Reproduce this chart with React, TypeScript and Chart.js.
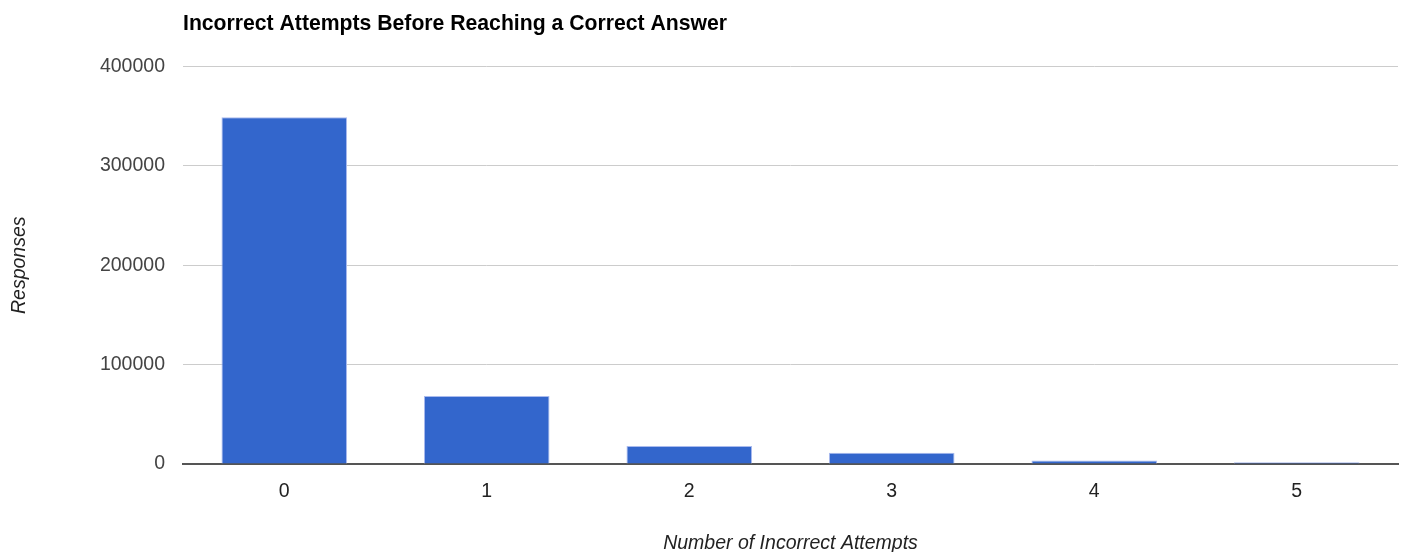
import { useEffect, useRef } from "react";
import { Chart, registerables } from "chart.js";

Chart.register(...registerables);

const categories = ["0", "1", "2", "3", "4", "5"];
const responses = [349000, 68300, 18100, 11400, 3400, 1700];
const yTicks = [0, 100000, 200000, 300000, 400000];

const FONT = "'Liberation Sans', Arial, sans-serif";

export default function App() {
  const ref = useRef<HTMLCanvasElement | null>(null);
  useEffect(() => {
    if (!ref.current) return;
    const chart = new Chart(ref.current, {
      type: "bar",
      data: {
        labels: categories,
        datasets: [
          {
            label: "Responses",
            data: responses,
            backgroundColor: "#3366cc",
            borderColor: "#aabbee",
            borderWidth: { top: 1, left: 1, right: 1, bottom: 0 },
            categoryPercentage: 1,
            barPercentage: 0.62,
          },
        ],
      },
      options: {
        animation: false,
        responsive: false,
        maintainAspectRatio: false,
        layout: { padding: { left: 0, right: 5, top: 0, bottom: 0 } },
        plugins: {
          legend: { display: false },
          tooltip: { enabled: false },
          title: {
            display: true,
            text: "Incorrect Attempts Before Reaching a Correct Answer",
            align: "start",
            fullSize: false,
            color: "#000",
            font: { family: FONT, size: 21.2, weight: "bold" },
            padding: { top: 11, bottom: 30 },
          },
        },
        scales: {
          x: {
            grid: { display: false },
            border: { display: true, color: "#555", width: 2 },
            ticks: {
              color: "#222",
              font: { family: FONT, size: 19.5 },
              padding: 8,
            },
            title: {
              display: true,
              text: "Number of Incorrect Attempts",
              color: "#222",
              font: { family: FONT, size: 19.5, style: "italic" },
              padding: { top: 0, bottom: -3 },
            },
            afterFit: (s: any) => {
              s.height = 88;
            },
          },
          y: {
            min: 0,
            max: 400000,
            afterBuildTicks: (s: any) => {
              s.ticks = yTicks.map((v) => ({ value: v }));
            },
            grid: { color: "#cccccc", drawTicks: false },
            border: { display: false },
            ticks: {
              color: "#444",
              font: { family: FONT, size: 19.5 },
              padding: 18,
              callback: (v: any) => String(v),
            },
            title: {
              display: true,
              text: "Responses",
              color: "#222",
              font: { family: FONT, size: 19.5, style: "italic" },
              padding: { top: 8, bottom: 0 },
            },
            afterFit: (s: any) => {
              s.width = 183;
            },
          },
        },
      },
    });
    return () => chart.destroy();
  }, []);
  return (
    <div style={{ position: "fixed", left: 0, top: 0, width: 1403, height: 552, background: "#fff" }}>
      <canvas ref={ref} width={1403} height={552} style={{ width: 1403, height: 552 }} />
    </div>
  );
}
